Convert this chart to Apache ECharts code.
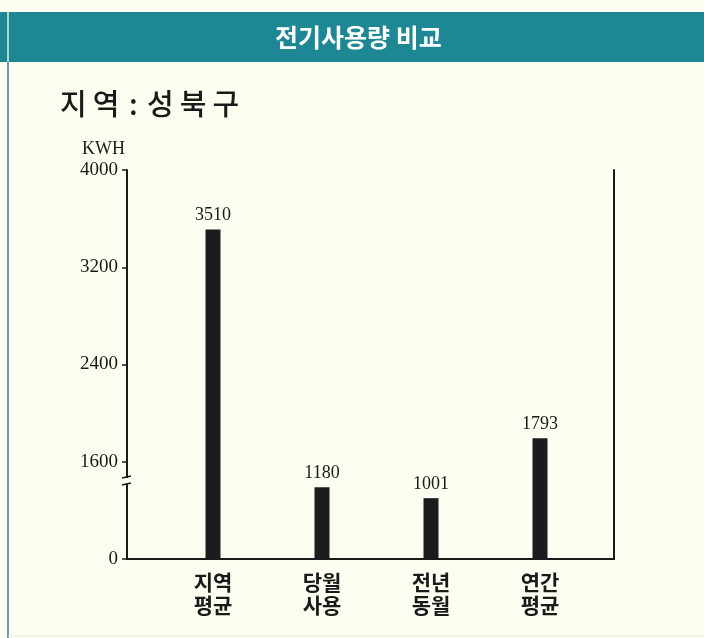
<!DOCTYPE html>
<html>
<head>
<meta charset="utf-8">
<script src="https://cdn.jsdelivr.net/npm/echarts@6/dist/echarts.min.js"></script>
<style>
  html, body { margin: 0; padding: 0; background: #fdfdf1; }
  #main { width: 704px; height: 638px; }
</style>
</head>
<body>
<div id="main"></div>
<script>
// 데이터
var categories = ['지역\n평균', '당월\n사용', '전년\n동월', '연간\n평균'];
var usage = [3510, 1180, 1001, 1793];
var yTickLabels = ['0', '1600', '2400', '3200', '4000'];

// 0~1600 구간은 한 칸으로 압축된 축
function toAxis(v) {
    return v <= 1600 ? v / 1600 : 1 + (v - 1600) / 800;
}

var serif = '"Liberation Serif", "DejaVu Serif", serif';
var kr = '"Noto Sans CJK KR", sans-serif';
var bg = '#fdfdf1';

var myChart = echarts.init(document.getElementById('main'));
myChart.setOption({
    backgroundColor: bg,
    animation: false,
    title: [{
        text: '전기사용량 비교',
        left: 270,
        top: 20,
        textStyle: { color: '#ffffff', fontFamily: kr, fontWeight: 'bold', fontSize: 25 }
    }, {
        text: '{c|지}{c|역} : {c|성}{c|북}{c|구}',
        left: 52,
        top: 84,
        textStyle: {
            color: '#1a1a1a', fontFamily: kr, fontWeight: 500, fontSize: 29,
            rich: { c: { color: '#1a1a1a', fontFamily: kr, fontWeight: 500, fontSize: 29, padding: [0, 3, 0, 3] } }
        }
    }],
    graphic: [
        { type: 'rect', z: -10, shape: { x: 0, y: 12, width: 704, height: 50 }, style: { fill: '#1d8793' } },
        { type: 'line', z: 10, shape: { x1: 8, y1: 12, x2: 8, y2: 62 }, style: { stroke: '#a9d8cc', lineWidth: 2 } },
        { type: 'line', z: 10, shape: { x1: 8, y1: 62, x2: 8, y2: 638 }, style: { stroke: '#6c93b4', lineWidth: 2 } },
        { type: 'line', z: 10, shape: { x1: 8, y1: 636, x2: 704, y2: 636 }, style: { stroke: '#e6e6da', lineWidth: 1 } },
        { type: 'text', left: 82, top: 140, style: { text: 'KWH', fill: '#1a1a1a', font: '18px ' + serif } },
        // 축 생략 표시
        { type: 'rect', z: 20, shape: { x: 121, y: 478, width: 12, height: 6 }, style: { fill: bg } },
        { type: 'line', z: 21, shape: { x1: 122, y1: 478, x2: 131, y2: 476 }, style: { stroke: '#1a1a1a', lineWidth: 1.5 } },
        { type: 'line', z: 21, shape: { x1: 122, y1: 485, x2: 131, y2: 483 }, style: { stroke: '#1a1a1a', lineWidth: 1.5 } }
    ],
    grid: [
        { left: 158.5, width: 436, top: 170, bottom: 79 },
        { left: 127, right: 90, top: 170, bottom: 79 }
    ],
    xAxis: [{
        type: 'category',
        gridIndex: 0,
        data: categories,
        axisLine: { show: false },
        axisTick: { show: false },
        axisLabel: {
            margin: 12,
            color: '#1a1a1a',
            fontFamily: kr,
            fontWeight: 'bold',
            fontSize: 21,
            lineHeight: 23
        }
    }, {
        type: 'value',
        gridIndex: 1,
        min: 0,
        max: 1,
        axisLine: { show: true, lineStyle: { color: '#1a1a1a', width: 2 } },
        axisTick: { show: false },
        axisLabel: { show: false },
        splitLine: { show: false }
    }],
    yAxis: [{
        type: 'value',
        gridIndex: 0,
        min: 0,
        max: 4,
        interval: 1,
        show: false
    }, {
        type: 'value',
        gridIndex: 1,
        position: 'left',
        min: 0,
        max: 4,
        interval: 1,
        axisLine: { show: true, lineStyle: { color: '#1a1a1a', width: 2 } },
        axisTick: { show: true, length: 5, lineStyle: { color: '#1a1a1a', width: 1.5 } },
        axisLabel: {
            margin: 9,
            color: '#1a1a1a',
            fontFamily: serif,
            fontSize: 19,
            formatter: function (v) { return yTickLabels[v]; }
        },
        splitLine: { show: false }
    }, {
        type: 'value',
        gridIndex: 1,
        position: 'right',
        min: 0,
        max: 4,
        axisLine: { show: true, lineStyle: { color: '#1a1a1a', width: 2 } },
        axisTick: { show: false },
        axisLabel: { show: false },
        splitLine: { show: false }
    }],
    series: [{
        type: 'bar',
        xAxisIndex: 0,
        yAxisIndex: 0,
        barWidth: 15,
        data: usage.map(toAxis),
        itemStyle: { color: '#1c1c1e' },
        label: {
            show: true,
            position: 'top',
            distance: 5,
            color: '#1a1a1a',
            fontFamily: serif,
            fontSize: 18,
            formatter: function (p) { return usage[p.dataIndex]; }
        }
    }]
});
</script>
</body>
</html>
